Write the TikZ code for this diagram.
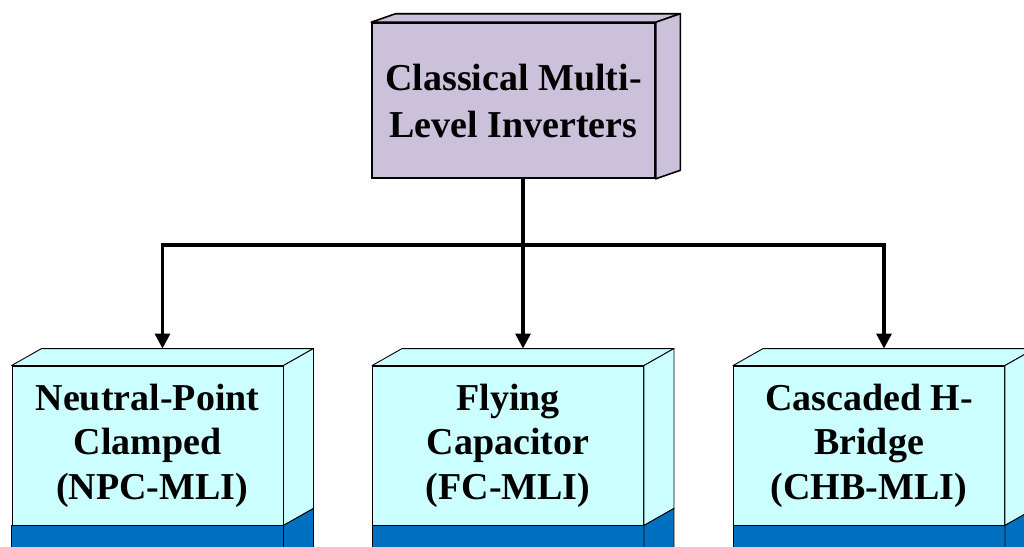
\documentclass[tikz,border=0pt]{standalone}
\usepackage{fontspec}
\setmainfont{Liberation Serif}
\usetikzlibrary{arrows.meta,calc}
\definecolor{lavender}{HTML}{CCC1DA}
\definecolor{paleCyan}{HTML}{CCFFFF}
\definecolor{baseBlue}{HTML}{0070C0}

\begin{document}
\begin{tikzpicture}[x=1pt,y=-1pt,
  headbox/.style={draw=black, line width=1.6pt, fill=lavender,
    minimum width=283pt, minimum height=155pt, inner sep=0pt,
    align=center, font=\fontsize{38}{47}\selectfont\bfseries},
  headface/.style={draw=black, line width=1.6pt, fill=lavender, line join=round},
  leafbox/.style={draw=black, line width=0.9pt, fill=paleCyan,
    minimum width=271pt, minimum height=159pt, inner sep=0pt,
    align=center, font=\fontsize{38}{44.5}\selectfont\bfseries},
  leafface/.style={draw=black, line width=0.9pt, fill=paleCyan, line join=round},
  baseface/.style={draw=black, line width=0.9pt, fill=baseBlue, line join=round},
  wire/.style={line width=3.2pt, line join=miter},
  conn/.style={wire, -{Triangle[length=15pt,width=15pt]}}
]
\useasboundingbox (0,0) rectangle (1024,546);
\fill[white] (0,0) rectangle (1024,546);
\clip (0,0) rectangle (1024,546);

% root block with its 3-D depth faces
\node[headbox] (root) at (513.5,100.5) {Classical Multi-\\Level Inverters};
\draw[headface] (root.north west) -- ++(24.5,-8.5) -- ($(root.north east)+(24.5,-8.5)$) -- (root.north east) -- cycle;
\draw[headface] (root.north east) -- ++(24.5,-8.5) -- ($(root.south east)+(24.5,-8.5)$) -- (root.south east) -- cycle;

% leaf blocks: light front face, blue base strip, top and side faces
\foreach \name/\cx/\txt in {npc/147.5/{Neutral-Point\\Clamped\\\mbox{}\ (NPC-MLI)},
                             fc/508/{Flying\\Capacitor\\(FC-MLI)},
                             chb/869/{Cascaded H-\\Bridge\\(CHB-MLI)}}{
  \node[leafbox] (\name) at (\cx,445.5) {\txt};
  \draw[baseface] (\name.south west) rectangle ($(\name.south east)+(0,40)$);
  \draw[leafface] (\name.north west) -- ++(30,-17) -- ($(\name.north east)+(30,-17)$) -- (\name.north east) -- cycle;
  \draw[leafface] (\name.north east) -- ++(30,-17) -- ($(\name.south east)+(30,-17)$) -- (\name.south east) -- cycle;
  \draw[baseface] (\name.south east) -- ++(30,-17) -- ++(0,50) -- ($(\name.south east)+(0,40)$) -- cycle;
  \coordinate (\name-in) at ($(\name.north)+(15,-17)$);
}

% connectors
\coordinate (bus) at (523,245);
\draw[wire] (root.south -| bus) -- (bus);
\draw[conn] (bus) -| (npc-in);
\draw[conn] (bus) -| (chb-in);
\draw[conn] (bus) -- (fc-in);
\end{tikzpicture}
\end{document}
